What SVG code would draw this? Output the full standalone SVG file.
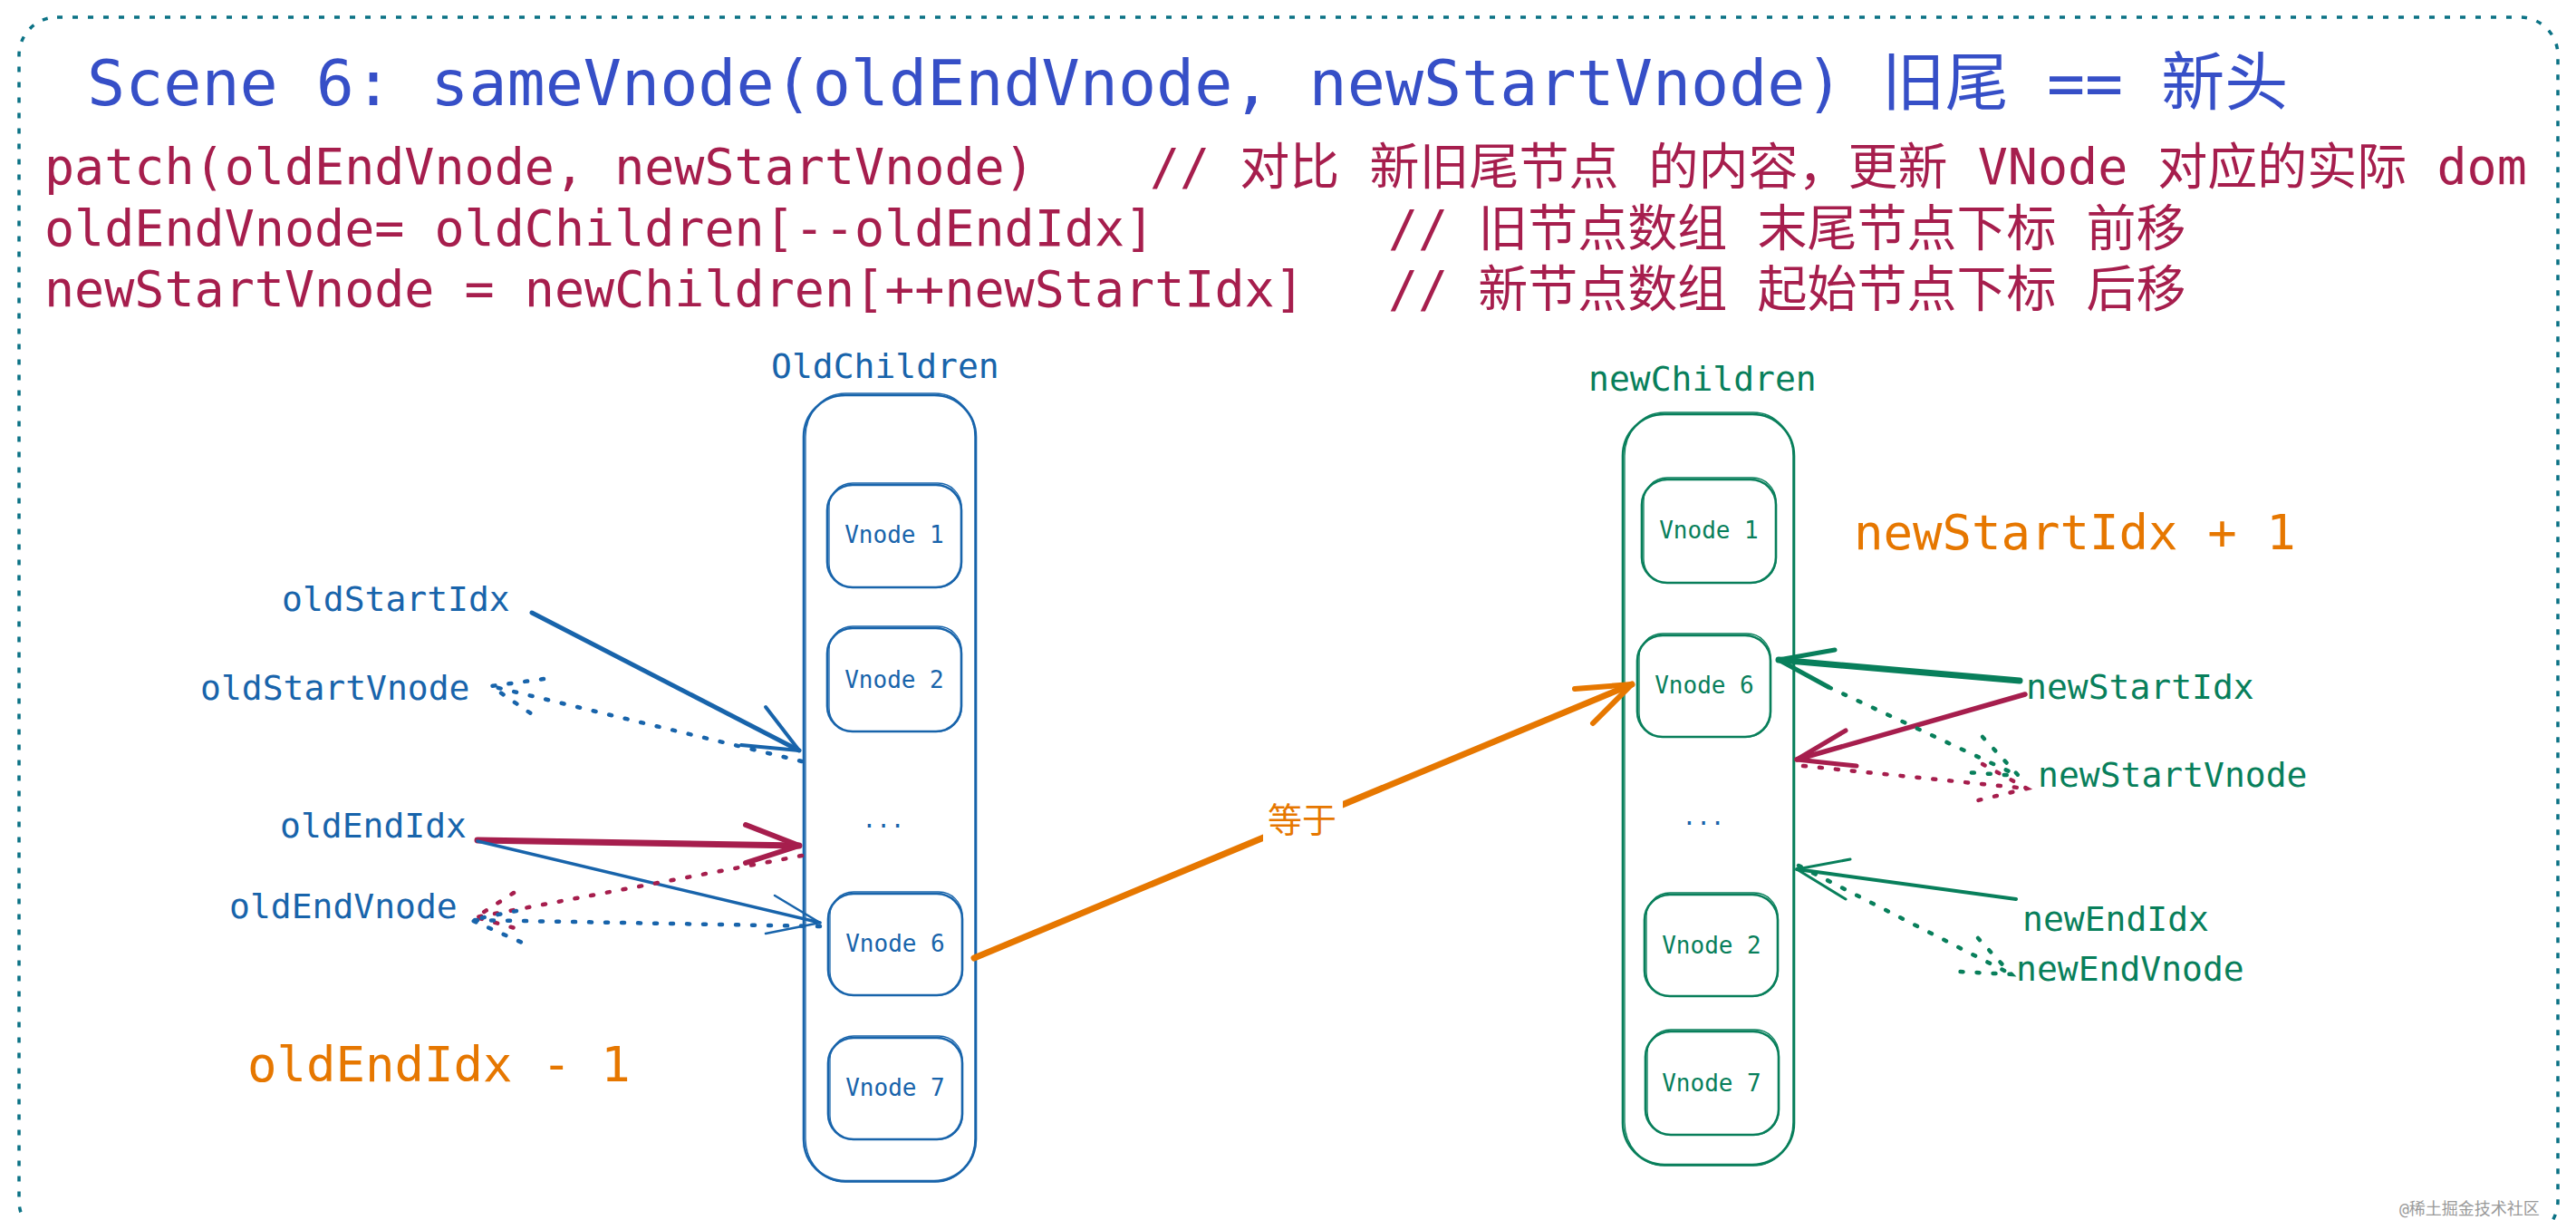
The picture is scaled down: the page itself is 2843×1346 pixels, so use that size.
<svg xmlns="http://www.w3.org/2000/svg" width="2843" height="1346" viewBox="0 0 2843 1346">
<defs>
<style>
text{font-family:"DejaVu Sans Mono","Noto Sans CJK SC",monospace;}
.title{fill:#364fc7;font-size:70px;}
.code{fill:#a61e4d;font-size:55px;}
.lb{fill:#1864ab;font-size:38px;}
.lg{fill:#087f5b;font-size:38px;}
.or{fill:#e67700;font-size:54px;}
.vb{fill:#1864ab;font-size:26px;text-anchor:middle;}
.vg{fill:#087f5b;font-size:26px;text-anchor:middle;}
.box{fill:none;stroke-width:2.6;}
.box2{fill:none;stroke-width:1.3;}
.sb{stroke:#1864ab;}
.sg{stroke:#087f5b;}
.sr{stroke:#a61e4d;}
.so{stroke:#e67700;}
.ln{fill:none;stroke-linecap:round;stroke-linejoin:round;}
.dot{fill:none;stroke-linecap:round;stroke-dasharray:3 15;stroke-width:4.5;}
.frame{fill:none;stroke:#0b7285;stroke-width:3.5;stroke-dasharray:6 11;}
</style>
</defs>
<rect x="0" y="0" width="2843" height="1346" fill="#ffffff"/>

<g id="frame">
<rect class="frame" x="21" y="19" width="2802" height="1348" rx="42" ry="42"/>
</g>

<g id="header">
<text class="title" x="96" y="116">Scene 6: sameVnode(oldEndVnode, newStartVnode) 旧尾 == 新头</text>
<text class="code" x="49" y="203">patch(oldEndVnode, newStartVnode)</text>
<text class="code" x="1269" y="203">// 对比 新旧尾节点 的内容，更新 VNode 对应的实际 dom</text>
<text class="code" x="49" y="271">oldEndVnode= oldChildren[--oldEndIdx]</text>
<text class="code" x="1532" y="271">// 旧节点数组 末尾节点下标 前移</text>
<text class="code" x="49" y="338">newStartVnode = newChildren[++newStartIdx]</text>
<text class="code" x="1532" y="338">// 新节点数组 起始节点下标 后移</text>
</g>

<g id="old-children">
<text class="lb" x="851" y="417">OldChildren</text>
<rect class="box sb" x="887" y="436" width="190" height="867" rx="46" ry="46"/>
<rect class="box2 sb" x="889" y="434" width="187" height="870" rx="44" ry="48"/>
</g>
<g id="old-vnode-1">
<rect class="box sb" x="913" y="535" width="148" height="113" rx="28"/>
<rect class="box2 sb" x="915" y="533" width="146" height="115" rx="26"/>
<text class="vb" x="987" y="599">Vnode 1</text>
</g>
<g id="old-vnode-2">
<rect class="box sb" x="913" y="693" width="148" height="114" rx="28"/>
<rect class="box2 sb" x="915" y="691" width="146" height="116" rx="26"/>
<text class="vb" x="987" y="759">Vnode 2</text>
</g>
<g id="old-ellipsis">
<text class="vb" x="975" y="913">...</text>
</g>
<g id="old-vnode-6">
<rect class="box sb" x="914" y="986" width="148" height="112" rx="28"/>
<rect class="box2 sb" x="916" y="984" width="146" height="114" rx="26"/>
<text class="vb" x="988" y="1050">Vnode 6</text>
</g>
<g id="old-vnode-7">
<rect class="box sb" x="914" y="1145" width="148" height="112" rx="28"/>
<rect class="box2 sb" x="916" y="1143" width="146" height="114" rx="26"/>
<text class="vb" x="988" y="1209">Vnode 7</text>
</g>

<g id="new-children">
<text class="lg" x="1753" y="431">newChildren</text>
<rect class="box sg" x="1791" y="457" width="189" height="828" rx="46" ry="46"/>
<rect class="box2 sg" x="1793" y="455" width="186" height="831" rx="44" ry="48"/>
</g>
<g id="new-vnode-1">
<rect class="box sg" x="1812" y="529" width="148" height="114" rx="28"/>
<rect class="box2 sg" x="1814" y="527" width="146" height="116" rx="26"/>
<text class="vg" x="1886" y="594">Vnode 1</text>
</g>
<g id="new-vnode-6">
<rect class="box sg" x="1807" y="701" width="147" height="112" rx="28"/>
<rect class="box2 sg" x="1809" y="699" width="145" height="114" rx="26"/>
<text class="vg" x="1881" y="765">Vnode 6</text>
</g>
<g id="new-ellipsis">
<text class="vb" x="1880" y="910">...</text>
</g>
<g id="new-vnode-2">
<rect class="box sg" x="1815" y="987" width="147" height="112" rx="28"/>
<rect class="box2 sg" x="1817" y="985" width="145" height="114" rx="26"/>
<text class="vg" x="1889" y="1052">Vnode 2</text>
</g>
<g id="new-vnode-7">
<rect class="box sg" x="1816" y="1138" width="147" height="114" rx="28"/>
<rect class="box2 sg" x="1818" y="1136" width="145" height="116" rx="26"/>
<text class="vg" x="1889" y="1204">Vnode 7</text>
</g>

<g id="label-oldStartIdx"><text class="lb" x="311" y="674">oldStartIdx</text></g>
<g id="label-oldStartVnode"><text class="lb" x="221" y="772">oldStartVnode</text></g>
<g id="label-oldEndIdx"><text class="lb" x="309" y="924">oldEndIdx</text></g>
<g id="label-oldEndVnode"><text class="lb" x="253" y="1013">oldEndVnode</text></g>
<g id="label-oldEndIdx-minus"><text class="or" x="273" y="1193">oldEndIdx - 1</text></g>
<g id="label-newStartIdx-plus"><text class="or" x="2046" y="606">newStartIdx + 1</text></g>
<g id="label-newStartIdx"><text class="lg" x="2236" y="771">newStartIdx</text></g>
<g id="label-newStartVnode"><text class="lg" x="2249" y="868">newStartVnode</text></g>
<g id="label-newEndIdx"><text class="lg" x="2232" y="1027">newEndIdx</text></g>
<g id="label-newEndVnode"><text class="lg" x="2225" y="1082">newEndVnode</text></g>

<g id="connectors">
<path class="ln sb" stroke-width="5" d="M587 676 L882 828"/>
<path class="ln sb" stroke-width="4" d="M845 780 L882 828 L818 822"/>
<path class="dot sb" d="M885 840 L542 757"/>
<path class="dot sb" stroke-width="4" d="M600 749 L542 757 L590 790"/>
<path class="ln sr" stroke-width="7" d="M527 927 L882 933"/>
<path class="ln sr" stroke-width="6" d="M823 910 L882 933 L823 952"/>
<path class="ln sb" stroke-width="3.5" d="M527 928 L905 1018"/>
<path class="ln sb" stroke-width="2.5" d="M855 988 L905 1018 L845 1030"/>
<path class="dot sr" d="M885 944 L525 1012"/>
<path class="dot sr" d="M567 985 L525 1012 L572 1025"/>
<path class="dot sb" stroke-width="3.5" d="M905 1022 L520 1015"/>
<path class="dot sb" stroke-width="3.5" d="M570 1005 L520 1015 L583 1043"/>
<path class="ln so" stroke-width="7" d="M1075 1057 L1801 755"/>
<path class="ln so" stroke-width="6" d="M1738 760 L1801 755 L1758 798"/>
<rect x="1394" y="876" width="88" height="54" fill="#ffffff"/>
<text x="1437" y="918" fill="#e67700" font-size="38" text-anchor="middle">等于</text>
<path class="ln sg" stroke-width="7" d="M2229 751 L1963 728"/>
<path class="ln sg" stroke-width="5" d="M2025 717 L1963 728 L2018 758"/>
<path class="ln sr" stroke-width="5.5" d="M2235 766 L1983 838"/>
<path class="ln sr" stroke-width="5" d="M2037 806 L1983 838 L2049 845"/>
<path class="dot sg" d="M2018 758 L2228 856"/>
<path class="dot sg" d="M2188 813 L2228 856 L2170 852"/>
<path class="dot sr" d="M1990 845 L2237 870"/>
<path class="dot sr" d="M2188 843 L2237 870 L2183 883"/>
<path class="ln sg" stroke-width="4" d="M2225 992 L1983 959"/>
<path class="ln sg" stroke-width="3" d="M2042 948 L1983 959 L2037 992"/>
<path class="dot sg" stroke-width="3.5" d="M1985 955 L2220 1075"/>
<path class="dot sg" stroke-width="3.5" d="M2183 1035 L2220 1075 L2163 1072"/>
</g>

<g id="watermark">
<text x="2648" y="1340" fill="#9a9a9a" font-size="18">@稀土掘金技术社区</text>
</g>
</svg>
